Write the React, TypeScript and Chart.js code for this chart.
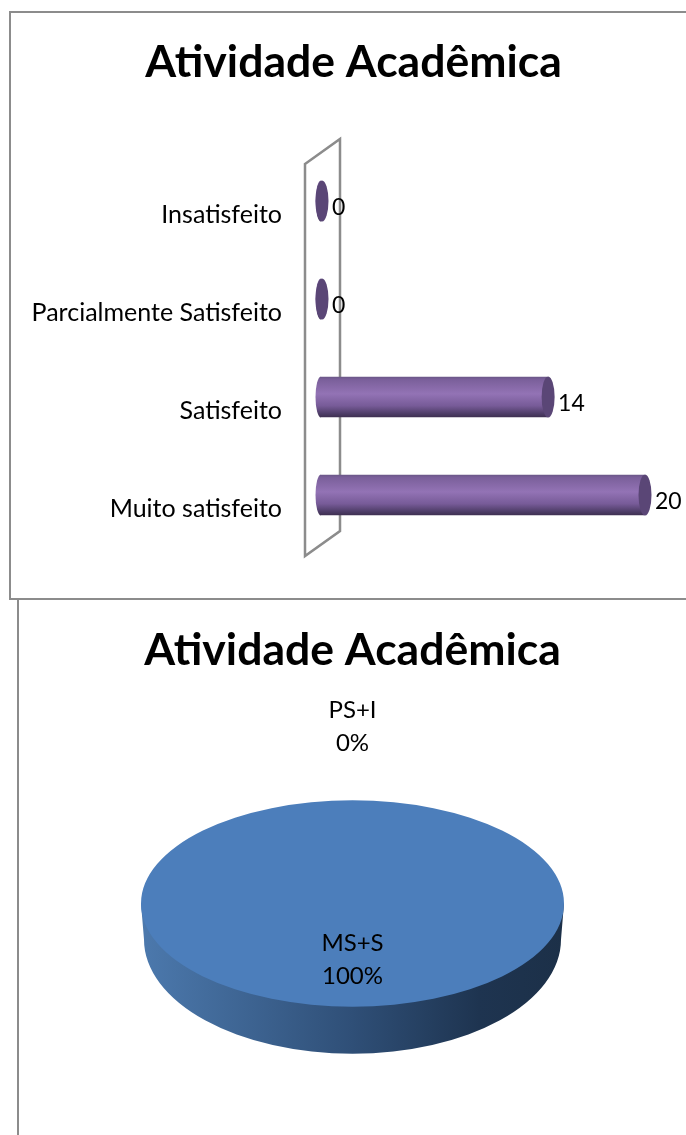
import React, { useEffect, useRef } from "react";
import { Chart, registerables } from "chart.js";

Chart.register(...registerables);

const chartTitle = "Atividade Acadêmica";
const barCategories = ["Insatisfeito", "Parcialmente Satisfeito", "Satisfeito", "Muito satisfeito"];
const barValues = [0, 0, 14, 20];
const pieCategories = ["MS+S", "PS+I"];
const pieValues = [100, 0];
const pieLabels = ["100%", "0%"];

const FONT = "Lato, 'Open Sans', sans-serif";
const TICK_SIZE = 25;
const VALUE_SIZE = 23;
const PIE_TEXT_SIZE = 24;

const barPlugin = {
  id: "cylinder",
  beforeDatasetsDraw(chart: any) {
    const { ctx, chartArea, scales } = chart;
    const zero = scales.x.getPixelForValue(0);
    const t = chartArea.top;
    const b = chartArea.bottom;
    ctx.save();
    ctx.strokeStyle = "#8c8c8c";
    ctx.lineWidth = 2.5;
    ctx.beginPath();
    ctx.moveTo(zero - 16, t + 12);
    ctx.lineTo(zero + 19, t - 13);
    ctx.lineTo(zero + 19, b - 13);
    ctx.lineTo(zero - 16, b + 12);
    ctx.closePath();
    ctx.stroke();
    ctx.restore();
  },
  afterDatasetsDraw(chart: any) {
    const { ctx, scales } = chart;
    const zero = scales.x.getPixelForValue(0);
    const meta = chart.getDatasetMeta(0);
    meta.data.forEach((el: any, i: number) => {
      const ry = 20.5;
      ctx.save();
      ctx.fillStyle = barGradient(ctx, el.y);
      ctx.beginPath();
      ctx.ellipse(zero, el.y, 5.5, ry, 0, Math.PI / 2, (3 * Math.PI) / 2);
      ctx.fill();
      ctx.fillStyle = "#5a4676";
      ctx.beginPath();
      ctx.ellipse(el.x + 1, el.y, 6.5, ry, 0, 0, Math.PI * 2);
      ctx.fill();
      ctx.fillStyle = "#000";
      ctx.font = `${VALUE_SIZE}px ${FONT}`;
      ctx.textAlign = "left";
      ctx.textBaseline = "middle";
      ctx.fillText(String(barValues[i]), el.x + 11, el.y + 7);
      ctx.restore();
    });
  },
};

function barGradient(ctx: CanvasRenderingContext2D, y: number) {
  const g = ctx.createLinearGradient(0, y - 20, 0, y + 20);
  g.addColorStop(0, "#6b5788");
  g.addColorStop(0.06, "#7a5f9a");
  g.addColorStop(0.42, "#9373b5");
  g.addColorStop(0.72, "#775b98");
  g.addColorStop(0.92, "#4d3c66");
  g.addColorStop(1, "#3f3052");
  return g;
}

const SQUASH = 0.488;

const piePlugin = {
  id: "flatPie",
  beforeDatasetsDraw(chart: any) {
    const { ctx } = chart;
    const el = chart.getDatasetMeta(0).data[0];
    const r = el.outerRadius;
    const cy = el.y;
    const ry = r * SQUASH;
    ctx.save();
    const g = ctx.createLinearGradient(el.x - r, 0, el.x + r, 0);
    g.addColorStop(0, "#4c79ad");
    g.addColorStop(0.5, "#2f4f77");
    g.addColorStop(0.8, "#1e3450");
    g.addColorStop(1, "#1c3048");
    ctx.fillStyle = g;
    ctx.beginPath();
    ctx.ellipse(el.x, cy + 36, r - 3, ry + 11, 0, 0, Math.PI);
    ctx.lineTo(el.x - r, cy);
    ctx.lineTo(el.x + r, cy);
    ctx.closePath();
    ctx.fill();
    ctx.restore();
    ctx.save();
    ctx.translate(0, cy);
    ctx.scale(1, SQUASH);
    ctx.translate(0, -cy);
  },
  afterDatasetsDraw(chart: any) {
    chart.ctx.restore();
  },
  afterDraw(chart: any) {
    const { ctx } = chart;
    const el = chart.getDatasetMeta(0).data[0];
    ctx.save();
    ctx.fillStyle = "#000";
    ctx.font = `${PIE_TEXT_SIZE}px ${FONT}`;
    ctx.textAlign = "center";
    ctx.textBaseline = "middle";
    ctx.fillText(pieCategories[0], el.x, el.y + 40);
    ctx.fillText(pieLabels[0], el.x, el.y + 73);
    ctx.fillText(pieCategories[1], el.x, el.y - 193);
    ctx.fillText(pieLabels[1], el.x, el.y - 160);
    ctx.restore();
  },
};

const titleOptions = (top: number, bottom: number) => ({
  display: true,
  text: chartTitle,
  color: "#000",
  font: { family: FONT, size: 44.5, weight: "bold" as const },
  padding: { top, bottom },
});

export default function App() {
  const barRef = useRef<HTMLCanvasElement>(null);
  const pieRef = useRef<HTMLCanvasElement>(null);

  useEffect(() => {
    const bar = new Chart(barRef.current!, {
      type: "bar",
      data: {
        labels: barCategories,
        datasets: [
          {
            data: barValues,
            barThickness: 40,
            borderWidth: 0,
            backgroundColor: (c: any) => {
              const y = c.chart.scales.y?.getPixelForValue(c.dataIndex);
              if (!Number.isFinite(y)) return "#8064a2";
              return barGradient(c.chart.ctx, y);
            },
          },
        ],
      },
      options: {
        indexAxis: "y",
        animation: false,
        responsive: false,
        devicePixelRatio: 1,
        layout: { padding: { left: 21, right: 0, top: 0, bottom: 56 } },
        scales: {
          x: { display: false, min: 0, max: 22.6 },
          y: {
            grid: { display: false, drawTicks: false },
            border: { display: false },
            afterFit: (s: any) => {
              s.width = 300;
            },
            ticks: {
              autoSkip: false,
              padding: 39,
              labelOffset: 14,
              color: "#000",
              font: { family: FONT, size: TICK_SIZE },
            },
          },
        },
        plugins: {
          legend: { display: false },
          tooltip: { enabled: false },
          title: titleOptions(36, 62.6),
        },
      },
      plugins: [barPlugin],
    } as any);

    const pie = new Chart(pieRef.current!, {
      type: "pie",
      data: {
        labels: pieCategories,
        datasets: [
          {
            data: pieValues,
            radius: 211.5,
            clip: false,
            borderWidth: 0,
            backgroundColor: ["#4c7ebb", "#c0504d"],
          },
        ],
      },
      options: {
        animation: false,
        responsive: false,
        devicePixelRatio: 1,
        layout: { padding: { left: 19, right: 0, top: 0, bottom: 55 } },
        plugins: {
          legend: { display: false },
          tooltip: { enabled: false },
          title: titleOptions(26, 49.6),
        },
      },
      plugins: [piePlugin],
    } as any);

    return () => {
      bar.destroy();
      pie.destroy();
    };
  }, []);

  const line = "#8c8c8c";
  return (
    <div style={{ position: "absolute", left: 0, top: 0, width: 686, height: 1135, overflow: "hidden", background: "#fff" }}>
      <div style={{ position: "absolute", left: 9, top: 11, width: 677, height: 2, background: line }} />
      <div style={{ position: "absolute", left: 9, top: 11, width: 2, height: 589, background: line }} />
      <div style={{ position: "absolute", left: 9, top: 598, width: 677, height: 2, background: line }} />
      <div style={{ position: "absolute", left: 17, top: 598, width: 2, height: 537, background: line }} />
      <canvas ref={barRef} width={686} height={600} style={{ position: "absolute", left: 0, top: 0 }} />
      <canvas ref={pieRef} width={686} height={537} style={{ position: "absolute", left: 0, top: 598 }} />
    </div>
  );
}
